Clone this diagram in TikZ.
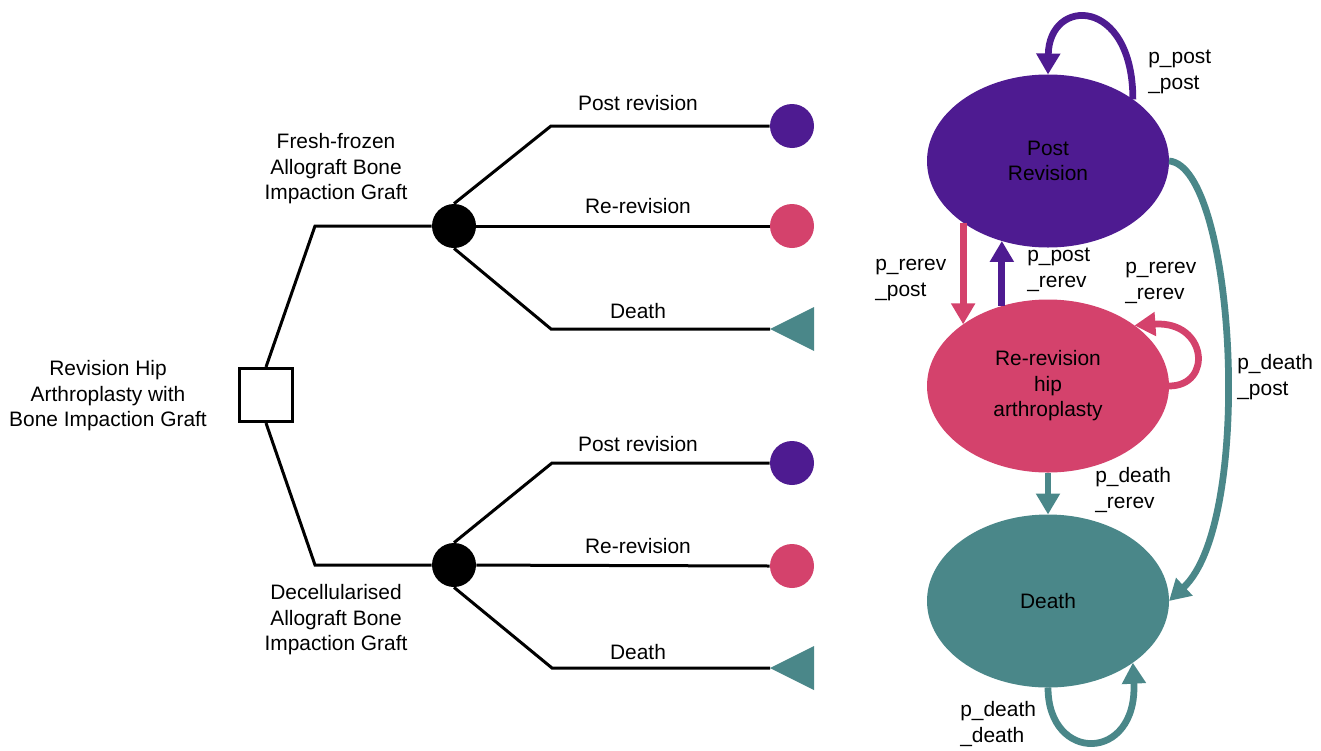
\documentclass[tikz,border=0pt]{standalone}
\usepackage{fontspec}
\setmainfont{Liberation Sans}
\usepackage{tikz}
\usetikzlibrary{shapes.geometric, arrows.meta, positioning}
\definecolor{postpurple}{RGB}{78,27,145}
\definecolor{rerevpink}{RGB}{212,66,108}
\definecolor{deathteal}{RGB}{74,135,137}
\newcommand{\lblfont}{\fontsize{11.9pt}{14.5pt}\selectfont}
\tikzset{every node/.append style={align=center}}
\tikzset{
  decbox/.style={rectangle, draw=black, fill=white, line width=0.6mm,
    minimum size=10.6mm, inner sep=0pt},
  chance/.style={circle, fill=black, minimum size=8.8mm, inner sep=0pt},
  endpt/.style={circle, minimum size=8.8mm, inner sep=0pt},
  enddeath/.style={isosceles triangle, isosceles triangle stretches, shape border rotate=180,
    fill=deathteal, minimum width=8.8mm, minimum height=8.8mm, inner sep=0pt, outer sep=0pt, anchor=apex},
  branch/.style={line width=0.6mm, black},
  txt/.style={font=\lblfont, align=center, inner sep=0pt},
  plbl/.style={font=\lblfont, align=left, inner sep=0pt, anchor=west},
  mstate/.style={ellipse, minimum width=48.4mm, minimum height=34.6mm, inner sep=0pt,
    outer sep=0pt, font=\lblfont, align=center},
  trans/.style={-{Triangle[length=4.2mm,width=4.6mm]}, line width=1.35mm}
}

\begin{document}
\begin{tikzpicture}[x=0.2mm, y=-0.2mm]
  \useasboundingbox (0,0) rectangle (1321,750);
  % decision tree
  \node[decbox] (dec) at (266,395) {};
  \node[txt] (root) at (108,396) {Revision Hip\\Arthroplasty with\\Bone Impaction Graft};
  \node[chance] (c1) at (454,226) {};
  \node[chance] (c2) at (454,565) {};
  \coordinate (k1) at (315,226);
  \coordinate (k2) at (315,565);
  \node[txt] (ff) at (336,169) {Fresh-frozen\\Allograft Bone\\Impaction Graft};
  \node[txt] (dc) at (336,620) {Decellularised\\Allograft Bone\\Impaction Graft};
  \draw[branch] (dec.north) -- (k1) -- (c1);
  \draw[branch] (dec.south) -- (k2) -- (c2);

  \node[endpt, fill=postpurple] (t1) at (792,126) {};
  \node[endpt, fill=rerevpink] (t2) at (792,226) {};
  \node[enddeath] (t3) at (770,329) {};
  \node[endpt, fill=postpurple] (t4) at (792,463) {};
  \node[endpt, fill=rerevpink] (t5) at (792,566) {};
  \node[enddeath] (t6) at (770,668) {};
  \coordinate (a1) at (551,126);
  \coordinate (a3) at (551,329);
  \coordinate (a4) at (552,463);
  \coordinate (a6) at (552,668);
  \draw[branch] (c1.north) -- (a1) -- (t1.west);
  \draw[branch] (c1) -- (t2.west);
  \draw[branch] (c1.south) -- (a3) -- (t3.apex);
  \draw[branch] (c2.north) -- (a4) -- (t4.west);
  \draw[branch] (c2) -- (t5.west);
  \draw[branch] (c2.south) -- (a6) -- (t6.apex);
  \node[txt] (l1) at (638,103) {Post revision};
  \node[txt] (l2) at (638,206) {Re-revision};
  \node[txt] (l3) at (638,311) {Death};
  \node[txt] (l4) at (638,444) {Post revision};
  \node[txt] (l5) at (638,546) {Re-revision};
  \node[txt] (l6) at (638,652) {Death};

  % markov model
  \node[mstate, fill=postpurple] (post) at (1048,161) {Post\\Revision};
  \node[mstate, fill=rerevpink, below=10.4mm of post] (rerev) {Re-revision\\hip\\arthroplasty};
  \node[mstate, fill=deathteal, below=8.4mm of rerev] (death) {Death};

  \draw[trans, postpurple] (post.36) .. controls +(0,-103) and +(1,-78) .. (post.90);
  \draw[trans, rerevpink] (post.216) -- (rerev.144);
  \draw[trans, postpurple] (rerev.120) -- (post.240);
  \draw[trans, rerevpink] (rerev.east) .. controls +(44,0) and +(73,-5) .. (rerev.35);
  \draw[trans, deathteal] (rerev.south) -- (death.north);
  \draw[trans, deathteal] (post.east) .. controls +(66,5) and +(86,-80) .. (death.east);
  \draw[trans, deathteal] (death.south) .. controls +(0,76) and +(5,100) .. (death.-36);

  \node[plbl] (pp) at (1148,72) {p\_post\\\_post};
  \node[plbl] (rp) at (875,280) {p\_rerev\\\_post};
  \node[plbl] (pr) at (1027,270) {p\_post\\\_rerev};
  \node[plbl] (rr) at (1125,283) {p\_rerev\\\_rerev};
  \node[plbl] (dp) at (1237,377) {p\_death\\\_post};
  \node[plbl] (dr) at (1095,490) {p\_death\\\_rerev};
  \node[plbl] (dd) at (960,724) {p\_death\\\_death};
\end{tikzpicture}
\end{document}
